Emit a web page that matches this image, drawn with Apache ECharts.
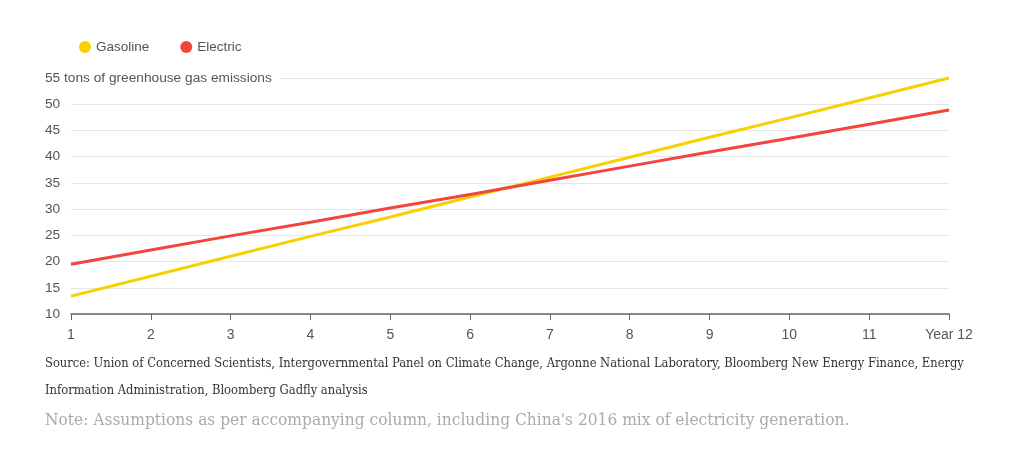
<!DOCTYPE html>
<html><head><meta charset="utf-8">
<script src="https://cdn.jsdelivr.net/npm/echarts@6/dist/echarts.min.js"></script>
<style>html,body{margin:0;padding:0;background:#fff}#c{width:1024px;height:454px}</style>
</head><body><div id="c"></div>
<script>
var years = ['1','2','3','4','5','6','7','8','9','10','11','Year 12'];
var gasoline = [13.4, 17.2, 21.0, 24.8, 28.5, 32.3, 36.1, 39.9, 43.7, 47.4, 51.2, 55.0];
var electric = [19.5, 22.2, 24.9, 27.5, 30.2, 32.8, 35.5, 38.2, 40.9, 43.5, 46.2, 48.9];
var yTop = 55;
var yUnit = 'tons of greenhouse gas emissions';
var sourceLine1 = 'Source: Union of Concerned Scientists, Intergovernmental Panel on Climate Change, Argonne National Laboratory, Bloomberg New Energy Finance, Energy';
var sourceLine2 = 'Information Administration, Bloomberg Gadfly analysis';
var noteText = "Note: Assumptions as per accompanying column, including China's 2016 mix of electricity generation.";

var chart = echarts.init(document.getElementById('c'));
chart.setOption({
  animation: false,
  textStyle: {fontFamily: 'Liberation Sans, Arial, sans-serif'},
  legend: {
    left: 74, top: 35, icon: 'circle', itemWidth: 12, itemHeight: 12, itemGap: 31,
    textStyle: {color: '#555', fontSize: 13.5},
    data: ['Gasoline', 'Electric']
  },
  grid: {left: 71, right: 75, top: 78, bottom: 140},
  xAxis: {
    type: 'category', data: years, boundaryGap: false,
    axisLine: {lineStyle: {color: '#666', width: 1.5}},
    axisTick: {length: 6, lineStyle: {color: '#666'}},
    axisLabel: {color: '#555', fontSize: 14, margin: 14},
    splitLine: {show: false}
  },
  yAxis: {
    type: 'value', min: 10, max: 55, interval: 5,
    axisLine: {show: false}, axisTick: {show: false},
    axisLabel: {
      align: 'left', margin: 26, color: '#555', fontSize: 13.7,
      formatter: function (v) { return v === yTop ? '{t|' + v + ' ' + yUnit + '}' : String(v); },
      rich: {t: {color: '#555', fontSize: 13.7, backgroundColor: '#fff', padding: [2, 8, 2, 0]}}
    },
    splitLine: {lineStyle: {color: '#e6e6e6', width: 1}}
  },
  series: [
    {name: 'Gasoline', type: 'line', data: gasoline, symbol: 'none', lineStyle: {width: 3, color: '#f7d000'}, itemStyle: {color: '#f7d000'}, z: 2},
    {name: 'Electric', type: 'line', data: electric, symbol: 'none', lineStyle: {width: 3, color: '#f2453d'}, itemStyle: {color: '#f2453d'}, z: 3}
  ],
  graphic: [
    {type: 'text', left: 45, top: 357, style: {text: sourceLine1, fill: '#333', font: '12.8px "DejaVu Serif Condensed", "DejaVu Serif", serif'}},
    {type: 'text', left: 45, top: 384, style: {text: sourceLine2, fill: '#333', font: '12.8px "DejaVu Serif Condensed", "DejaVu Serif", serif'}},
    {type: 'text', left: 45, top: 412, style: {text: noteText, fill: '#aaa', font: '17.2px "DejaVu Serif Condensed", "DejaVu Serif", serif'}}
  ]
});
</script></body></html>
